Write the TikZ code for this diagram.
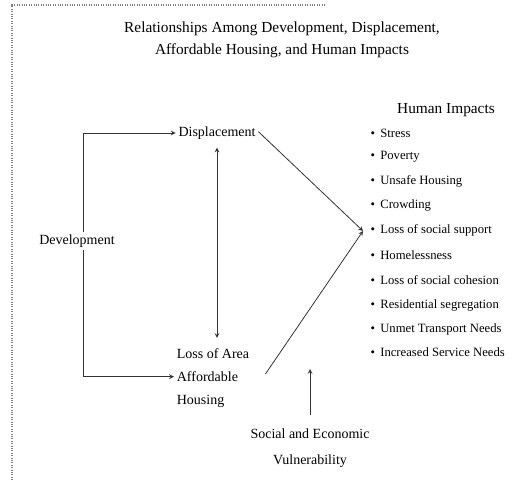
\documentclass[tikz,border=0pt]{standalone}
\usepackage{fontspec}
\setmainfont{Liberation Serif}
\usetikzlibrary{arrows,positioning}
\tikzset{>=stealth,
  lbl/.style={font=\fontsize{10.5}{17}\selectfont, align=center, inner sep=2pt},
  imp/.style={font=\fontsize{9.5}{11}\selectfont, anchor=west, inner sep=1pt},
  link/.style={draw=black!80, line width=0.6pt}}

\begin{document}
\begin{tikzpicture}[x=0.75pt, y=-0.75pt]
\useasboundingbox (0,0) rectangle (521,481);
\draw [gray, densely dotted, line width=0.8pt] (325,5) -- (12,5) -- (12,481);

\node (title) [font=\fontsize{11.5}{17}\selectfont, align=center] at (282,40) {Relationships Among Development, Displacement,\\ Affordable Housing, and Human Impacts};

\node (disp) [lbl] at (217,133) {Displacement};
\node (dev) [lbl] at (77,241) {Development};
\node (loss) [lbl, align=left] at (213,378) {Loss of Area\\ Affordable\\ Housing};
\node (vul) [lbl, font=\fontsize{10.5}{19}\selectfont] at (310,448) {Social and Economic\\ Vulnerability};
\node (hum) [lbl, font=\fontsize{11.5}{13}\selectfont] at (446,110) {Human Impacts};

\node (i1) [imp] at (369,133) {\textbullet\, Stress};
\node (i2) [imp] at (369,157) {\textbullet\, Poverty};
\node (i3) [imp] at (369,181) {\textbullet\, Unsafe Housing};
\node (i4) [imp] at (369,205) {\textbullet\, Crowding};
\node (i5) [imp] at (369,230) {\textbullet\, Loss of social support};
\node (i6) [imp] at (369,255) {\textbullet\, Homelessness};
\node (i7) [imp] at (369,280) {\textbullet\, Loss of social cohesion};
\node (i8) [imp] at (369,305) {\textbullet\, Residential segregation};
\node (i9) [imp] at (369,329) {\textbullet\, Unmet Transport Needs};
\node (i10) [imp] at (369,352) {\textbullet\, Increased Service Needs};

\coordinate (v) at (363,231);
\coordinate (sv) at (310,369);

\draw [link, ->] ([xshift=5pt]dev.north) |- (disp.west);
\draw [link, ->] ([xshift=5pt]dev.south) |- ([yshift=1pt]loss.west);
\draw [link, <->] ([yshift=-4pt]disp.south) -- ([yshift=6pt]disp.south |- loss.north);
\draw [link, ->] ([yshift=1pt]disp.east) -- (v);
\draw [link, ->] ([xshift=10pt, yshift=3pt]loss.east) -- (v);
\draw [link, ->] ([yshift=8pt]vul.north) -- (sv);
\end{tikzpicture}
\end{document}
